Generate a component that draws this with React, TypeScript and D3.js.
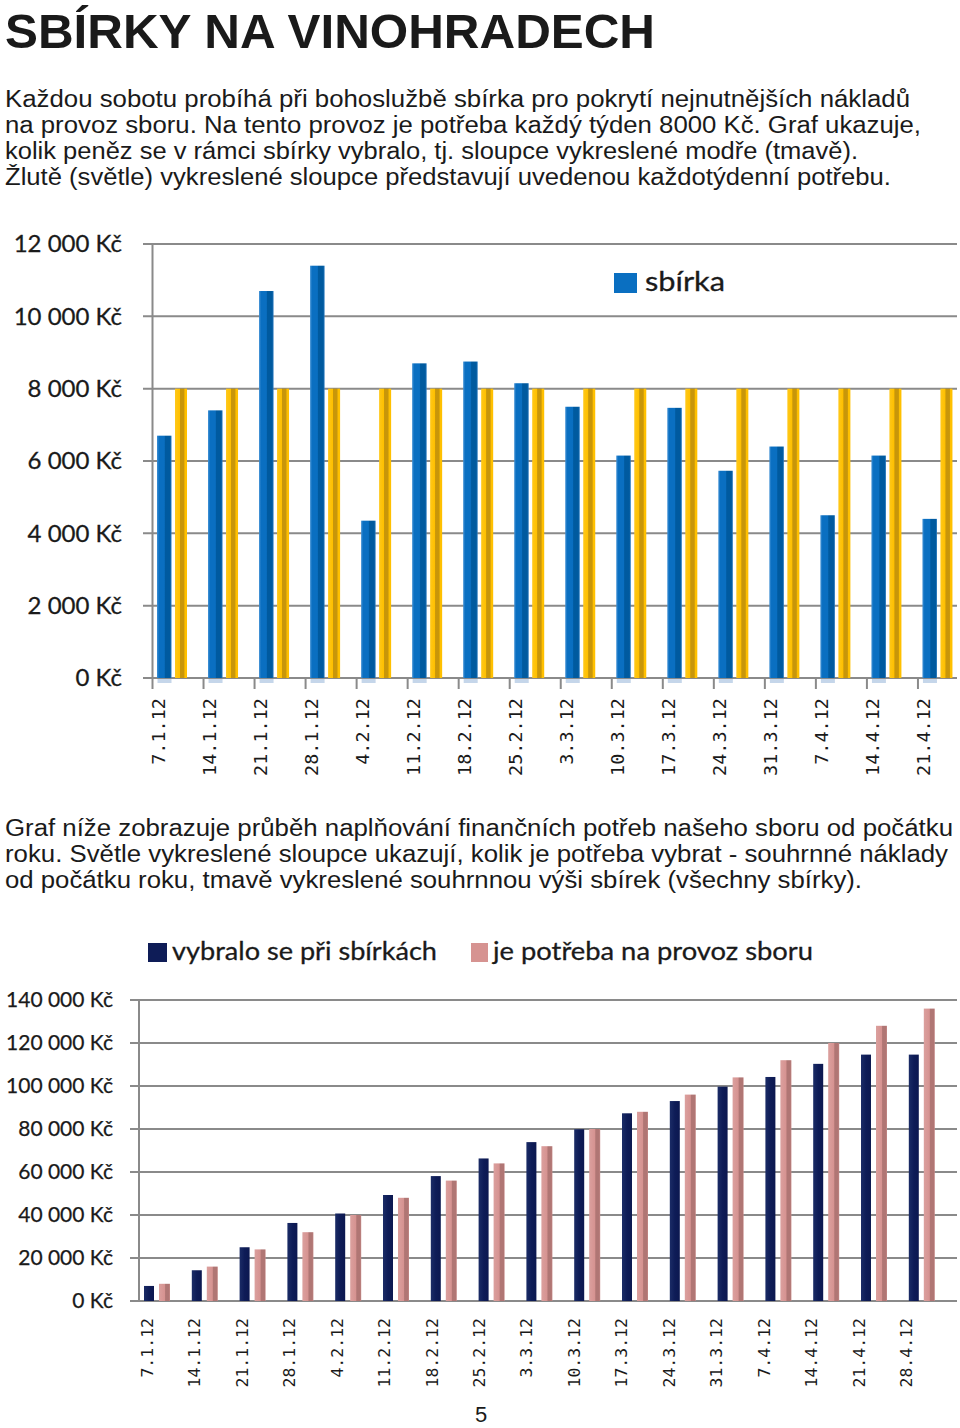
import React from "react";
import * as d3 from "d3";

// ---------- data ----------
const weeksTop = ["7.1.12","14.1.12","21.1.12","28.1.12","4.2.12","11.2.12","18.2.12","25.2.12","3.3.12","10.3.12","17.3.12","24.3.12","31.3.12","7.4.12","14.4.12","21.4.12"];
const collected = [6700, 7400, 10700, 11400, 4350, 8700, 8750, 8150, 7500, 6150, 7470, 5730, 6400, 4500, 6150, 4400];
const weeklyNeed = [8000, 8000, 8000, 8000, 8000, 8000, 8000, 8000, 8000, 8000, 8000, 8000, 8000, 8000, 8000, 8000];
const yTicksTop = [0, 2000, 4000, 6000, 8000, 10000, 12000];

const weeksBottom = ["7.1.12","14.1.12","21.1.12","28.1.12","4.2.12","11.2.12","18.2.12","25.2.12","3.3.12","10.3.12","17.3.12","24.3.12","31.3.12","7.4.12","14.4.12","21.4.12","28.4.12"];
const cumulativeCollected = [7000, 14300, 25000, 36300, 40700, 49300, 58100, 66300, 73900, 79900, 87300, 93000, 99700, 104200, 110300, 114600, 114600];
const cumulativeNeed = [8000, 16000, 24000, 32000, 40000, 48000, 56000, 64000, 72000, 80000, 88000, 96000, 104000, 112000, 120000, 128000, 136000];
const yTicksBottom = [0, 20000, 40000, 60000, 80000, 100000, 120000, 140000];

const titleText = "SBÍRKY NA VINOHRADECH";
const introLines = [
  "Každou sobotu probíhá při bohoslužbě sbírka pro pokrytí nejnutnějších nákladů",
  "na provoz sboru. Na tento provoz je potřeba každý týden 8000 Kč. Graf ukazuje,",
  "kolik peněz se v rámci sbírky vybralo, tj. sloupce vykreslené modře (tmavě).",
  "Žlutě (světle) vykreslené sloupce představují uvedenou každotýdenní potřebu.",
];
const introWidths = [905, 916, 853, 886];
const middleLines = [
  "Graf níže zobrazuje průběh naplňování finančních potřeb našeho sboru od počátku",
  "roku. Světle vykreslené sloupce ukazují, kolik je potřeba vybrat - souhrnné náklady",
  "od počátku roku, tmavě vykreslené souhrnnou výši sbírek (všechny sbírky).",
];
const middleWidths = [948, 943, 857];
const legendTop = "sbírka";
const legendBottom = ["vybralo se při sbírkách", "je potřeba na provoz sboru"];
const pageNumber = "5";

// ---------- helpers ----------
const fmtNum = d3.format(",");
const kc = (v: number) => fmtNum(v).replace(/,/g, " ") + " Kč";

const GRID = "#8a8a8a";
const TEXT = "#1a1a1a";
const LABEL_FONT = "Lato, 'Open Sans', sans-serif";
const MONO = "'DejaVu Sans Mono', 'Liberation Mono', monospace";

export default function App() {
  // top chart scales
  const xTop = d3.scaleBand<string>().domain(weeksTop).range([152.5, 152.5 + 16 * 51.03]).padding(0);
  const yTop = d3.scaleLinear().domain([0, 12000]).range([678, 244]);
  const topRight = 957;

  // bottom chart scales
  const xBot = d3.scaleBand<string>().domain(weeksBottom).range([139, 139 + 17 * 47.8]).padding(0);
  const xBotLabel = d3.scalePoint<string>().domain(weeksBottom).range([147, 906]);
  const yBot = d3.scaleLinear().domain([0, 140000]).range([1301, 1000]);
  const botRight = 957;

  return (
    <svg
      width={960}
      height={1428}
      viewBox="0 0 960 1428"
      style={{ position: "absolute", left: 0, top: 0, background: "#fff" }}
    >
      <defs>
        <linearGradient id="gBlue" x1="0" x2="1" y1="0" y2="0">
          <stop offset="0" stopColor="#3e8fd4" />
          <stop offset="0.15" stopColor="#0a6fc1" />
          <stop offset="0.5" stopColor="#0a6fc1" />
          <stop offset="0.58" stopColor="#005a9f" />
          <stop offset="0.9" stopColor="#005a9f" />
          <stop offset="1" stopColor="#2c7cc2" />
        </linearGradient>
        <linearGradient id="gYellow" x1="0" x2="1" y1="0" y2="0">
          <stop offset="0" stopColor="#ffc81a" />
          <stop offset="0.38" stopColor="#ffc000" />
          <stop offset="0.45" stopColor="#c8960a" />
          <stop offset="0.75" stopColor="#c8960a" />
          <stop offset="0.82" stopColor="#ffc000" />
          <stop offset="1" stopColor="#ffc000" />
        </linearGradient>
        <linearGradient id="gNavy" x1="0" x2="1" y1="0" y2="0">
          <stop offset="0" stopColor="#1b2c66" />
          <stop offset="0.5" stopColor="#0e1c57" />
          <stop offset="1" stopColor="#0c1850" />
        </linearGradient>
        <linearGradient id="gPink" x1="0" x2="1" y1="0" y2="0">
          <stop offset="0" stopColor="#dba09e" />
          <stop offset="0.5" stopColor="#d69391" />
          <stop offset="0.6" stopColor="#b07674" />
          <stop offset="0.9" stopColor="#b07674" />
          <stop offset="1" stopColor="#c98c8a" />
        </linearGradient>
      </defs>

      {/* title */}
      <text x={5} y={48} fontFamily="'Liberation Sans', Arial, sans-serif" fontWeight="bold" fontSize={49} fill={TEXT} textLength={650} lengthAdjust="spacingAndGlyphs">
        {titleText}
      </text>

      {/* intro paragraph */}
      {introLines.map((t, i) => (
        <text key={"in" + i} x={5} y={107 + i * 26} fontFamily="'Liberation Sans', Arial, sans-serif" fontSize={23} fill={TEXT} textLength={introWidths[i]} lengthAdjust="spacingAndGlyphs">
          {t}
        </text>
      ))}

      {/* ---------- top chart ---------- */}
      {yTicksTop.map((v) => (
        <g key={"gt" + v}>
          <line x1={143} x2={topRight} y1={yTop(v)} y2={yTop(v)} stroke={GRID} strokeWidth={2} />
          <text x={122} y={yTop(v)} dy="0.35em" textAnchor="end" fontFamily={LABEL_FONT} fontSize={24} fill={TEXT} stroke={TEXT} strokeWidth={0.3}>
            {kc(v)}
          </text>
        </g>
      ))}
      <line x1={152.5} x2={152.5} y1={yTop(12000)} y2={yTop(0)} stroke={GRID} strokeWidth={2} />
      {weeksTop.map((w) => (
        <line key={"tk" + w} x1={xTop(w)!} x2={xTop(w)!} y1={yTop(0)} y2={yTop(0) + 11} stroke={GRID} strokeWidth={2} />
      ))}

      {weeksTop.map((w, i) => (
        <g key={"bt" + w}>
          <rect x={xTop(w)! + 5} y={yTop(0) + 1} width={14} height={4} fill="#c5d6ea" />
          <rect x={xTop(w)! + 4.5} y={yTop(collected[i])} width={14.5} height={yTop(0) - yTop(collected[i])} fill="url(#gBlue)" />
          <rect x={xTop(w)! + 22.5} y={yTop(weeklyNeed[i])} width={12} height={yTop(0) - yTop(weeklyNeed[i])} fill="url(#gYellow)" />
        </g>
      ))}

      {weeksTop.map((w) => (
        <text
          key={"lt" + w}
          transform={`translate(${xTop(w)! + 5.5},698) rotate(-90)`}
          dy="0.36em"
          textAnchor="end"
          fontFamily={MONO}
          fontSize={18.5}
          fill={TEXT}
        >
          {w}
        </text>
      ))}

      {/* top legend */}
      <rect x={614} y={273} width={23} height={20} fill="#0a6fc1" />
      <text x={645} y={291} fontFamily={LABEL_FONT} fontSize={27} fill={TEXT} stroke={TEXT} strokeWidth={0.3} textLength={80} lengthAdjust="spacingAndGlyphs">
        {legendTop}
      </text>

      {/* middle paragraph */}
      {middleLines.map((t, i) => (
        <text key={"mid" + i} x={5} y={836 + i * 26} fontFamily="'Liberation Sans', Arial, sans-serif" fontSize={23} fill={TEXT} textLength={middleWidths[i]} lengthAdjust="spacingAndGlyphs">
          {t}
        </text>
      ))}

      {/* ---------- bottom chart ---------- */}
      {/* legend */}
      <rect x={148} y={943} width={19} height={19} fill="#0e1c57" />
      <text x={172} y={960} fontFamily={LABEL_FONT} fontSize={25} fill={TEXT} stroke={TEXT} strokeWidth={0.3} textLength={265} lengthAdjust="spacingAndGlyphs">
        {legendBottom[0]}
      </text>
      <rect x={471} y={943} width={17} height={19} fill="#d69391" />
      <text x={493} y={960} fontFamily={LABEL_FONT} fontSize={25} fill={TEXT} stroke={TEXT} strokeWidth={0.3} textLength={320} lengthAdjust="spacingAndGlyphs">
        {legendBottom[1]}
      </text>

      {yTicksBottom.map((v) => (
        <g key={"gb" + v}>
          <line x1={130} x2={botRight} y1={yBot(v)} y2={yBot(v)} stroke={GRID} strokeWidth={2} />
          <text x={113} y={yBot(v)} dy="0.35em" textAnchor="end" fontFamily={LABEL_FONT} fontSize={21} fill={TEXT} stroke={TEXT} strokeWidth={0.25}>
            {kc(v)}
          </text>
        </g>
      ))}
      <line x1={139} x2={139} y1={yBot(140000)} y2={yBot(0)} stroke={GRID} strokeWidth={2} />

      {weeksBottom.map((w, i) => (
        <g key={"bb" + w}>
          <rect x={xBot(w)! + 5} y={yBot(cumulativeCollected[i])} width={10} height={yBot(0) - yBot(cumulativeCollected[i])} fill="url(#gNavy)" />
          <rect x={xBot(w)! + 20} y={yBot(cumulativeNeed[i])} width={11} height={yBot(0) - yBot(cumulativeNeed[i])} fill="url(#gPink)" />
        </g>
      ))}

      {weeksBottom.map((w) => (
        <text
          key={"lb" + w}
          transform={`translate(${xBotLabel(w)},1318) rotate(-90)`}
          dy="0.36em"
          textAnchor="end"
          fontFamily={MONO}
          fontSize={16.5}
          fill={TEXT}
        >
          {w}
        </text>
      ))}

      {/* page number */}
      <text x={481} y={1422} textAnchor="middle" fontFamily="'Liberation Sans', Arial, sans-serif" fontSize={22} fill={TEXT}>
        {pageNumber}
      </text>
    </svg>
  );
}
